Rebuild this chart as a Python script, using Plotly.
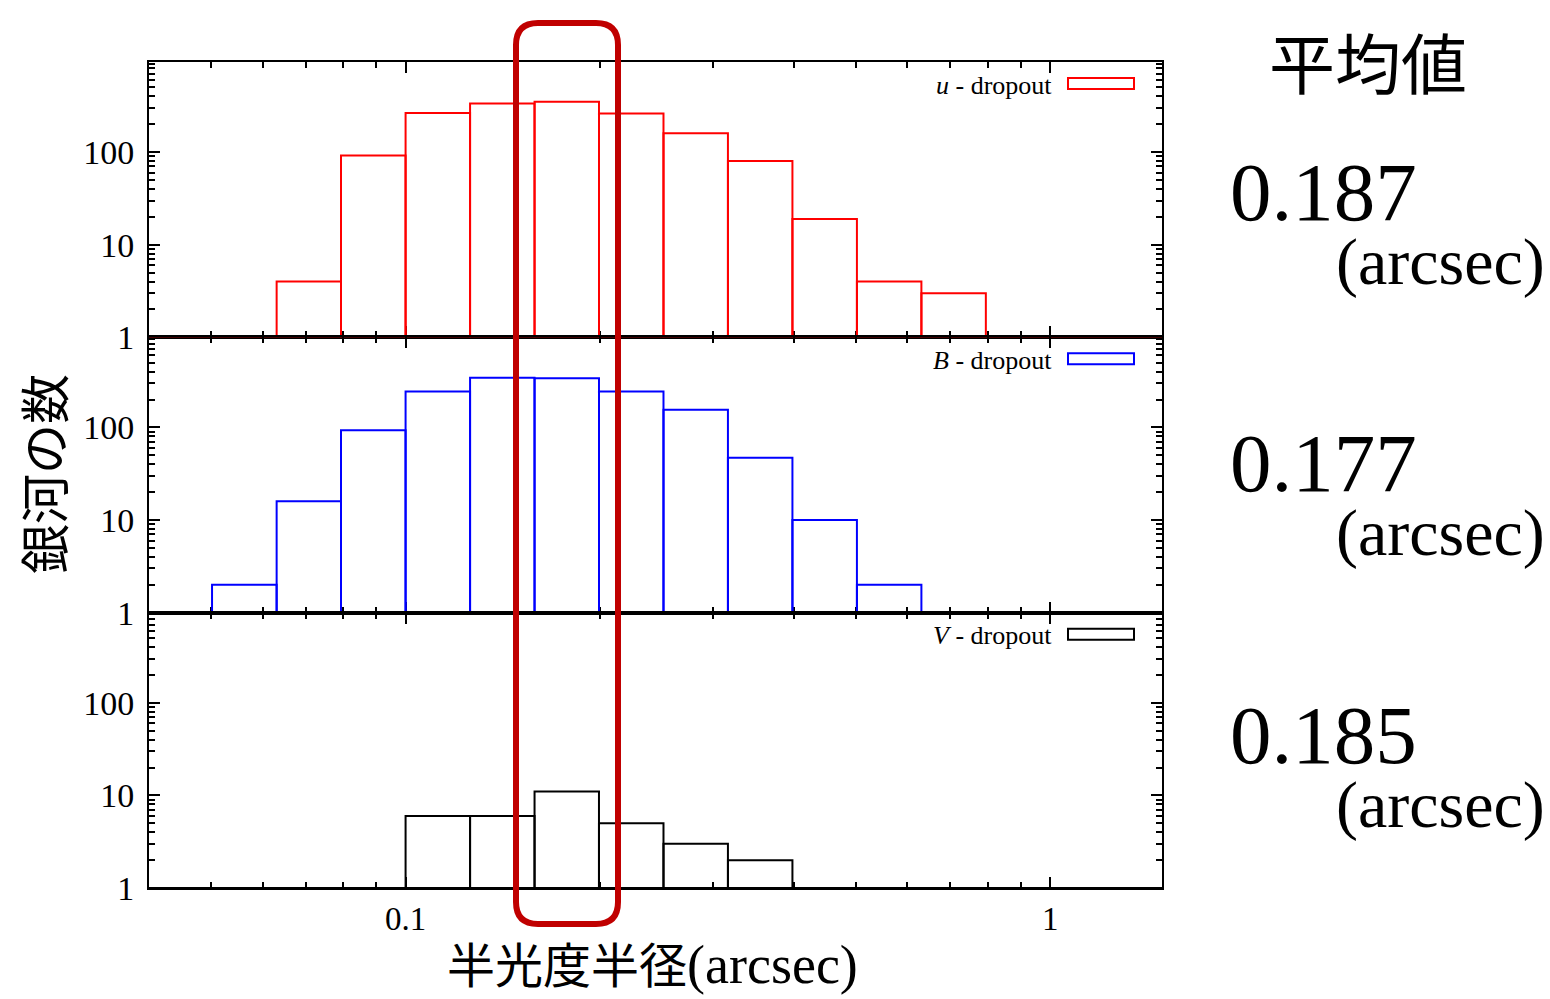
import numpy as np
import plotly.graph_objects as go
from plotly.subplots import make_subplots

# ---------------- data ----------------
bin_edges = [0.0501, 0.0631, 0.0794, 0.1000, 0.1259, 0.1585, 0.1995,
             0.2512, 0.3162, 0.3981, 0.5012, 0.6310, 0.7943]
u_counts = [0, 4, 92, 265, 335, 350, 262, 160, 80, 19, 4, 3]
b_counts = [2, 16, 93, 245, 345, 340, 245, 155, 47, 10, 2, 0]
v_counts = [0, 0, 0, 6, 6, 11, 5, 3, 2, 0, 0, 0]
series_names = ["u", "B", "V"]
series_colors = ["#ff0000", "#0000ff", "#000000"]
mean_values = ["0.187", "0.177", "0.185"]
x_range = [0.04, 1.49]
y_range_max = 940
y_tickvals = [1, 10, 100]
x_tickvals = [0.1, 1]
x_ticktext = ["0.1", "1"]

# ---------------- layout constants ----------------
W, H = 1550, 999
L, R, T, B = 149, 1162, 62, 888
PW, PH = R - L, B - T

SERIF = "Liberation Serif"
CJK = "Noto Sans CJK JP"

fig = make_subplots(rows=3, cols=1, shared_xaxes=True, vertical_spacing=0)


def box_path(edges, counts):
    xs, ys = [x_range[0], x_range[1], None], [1, 1, None]
    for i, c in enumerate(counts):
        if c > 0:
            xs += [edges[i], edges[i], edges[i + 1], edges[i + 1], None]
            ys += [1, c, c, 1, None]
    return xs, ys


all_counts = [u_counts, b_counts, v_counts]
for k, (cnts, col) in enumerate(zip(all_counts, series_colors)):
    xs, ys = box_path(bin_edges, cnts)
    fig.add_trace(go.Scatter(x=xs, y=ys, mode="lines",
                             line=dict(color=col, width=2),
                             showlegend=False, hoverinfo="skip"),
                  row=k + 1, col=1)

minor_x = [0.05, 0.06, 0.07, 0.08, 0.09, 0.2, 0.3, 0.4, 0.5, 0.6, 0.7, 0.8, 0.9]
minor_y = [2, 3, 4, 5, 6, 7, 8, 9, 20, 30, 40, 50, 60, 70, 80, 90,
           200, 300, 400, 500, 600, 700, 800, 900]

for k in range(3):
    fig.update_xaxes(type="log", range=[np.log10(x_range[0]), np.log10(x_range[1])],
                     showline=True, linewidth=2, linecolor="black", mirror="allticks",
                     ticks="inside", ticklen=11, tickwidth=1.5, tickcolor="black",
                     tickvals=x_tickvals, ticktext=x_ticktext,
                     showticklabels=(k == 2), showgrid=False, zeroline=False,
                     minor=dict(ticks="inside", ticklen=6, tickwidth=1.5,
                                tickcolor="black", tickvals=minor_x, showgrid=False),
                     tickfont=dict(family=SERIF, size=33, color="black"),
                     ticklabelstandoff=0,
                     layer="below traces",
                     row=k + 1, col=1)
    fig.update_yaxes(type="log", range=[0, np.log10(y_range_max)],
                     showline=True, linewidth=2, linecolor="black", mirror="allticks",
                     ticks="inside", ticklen=11, tickwidth=1.5, tickcolor="black",
                     tickvals=y_tickvals, ticktext=[str(v) for v in y_tickvals],
                     showgrid=False, zeroline=False,
                     minor=dict(ticks="inside", ticklen=6, tickwidth=1.5,
                                tickcolor="black", tickvals=minor_y, showgrid=False),
                     tickfont=dict(family=SERIF, size=34, color="black"),
                     ticklabelstandoff=6,
                     layer="below traces",
                     row=k + 1, col=1)


def px(x):
    return (x - L) / PW


def py(y):
    return (B - y) / PH


annotations = []
shapes = []

# legends inside each panel
for k in range(3):
    xd = "x domain" if k == 0 else f"x{k+1} domain"
    yd = "y domain" if k == 0 else f"y{k+1} domain"
    name = series_names[k]
    annotations.append(dict(
        xref=xd, yref=yd, x=(1054 - L) / PW, y=1 - 23 / (PH / 3),
        xanchor="right", yanchor="middle", showarrow=False,
        text=f"<i>{name}</i> - dropout",
        font=dict(family=SERIF, size=26, color="black")))
    shapes.append(dict(
        type="rect", xref=xd, yref=yd,
        x0=(1068 - L) / PW, x1=(1134 - L) / PW,
        y0=1 - 27 / (PH / 3), y1=1 - 16 / (PH / 3),
        line=dict(color=series_colors[k], width=2), fillcolor="rgba(0,0,0,0)"))

# right-side mean values
annotations.append(dict(xref="paper", yref="paper", x=px(1368), y=py(60),
                        xanchor="center", yanchor="middle", showarrow=False,
                        text="平均値", font=dict(family=CJK, size=66, color="black")))
val_y = [192, 463, 735]
for k in range(3):
    annotations.append(dict(xref="paper", yref="paper", x=px(1229), y=py(val_y[k]),
                            xanchor="left", yanchor="middle", showarrow=False,
                            text=mean_values[k], borderpad=0,
                            font=dict(family=SERIF, size=83, color="black")))
    annotations.append(dict(xref="paper", yref="paper", x=px(1546), y=py(val_y[k] + 70),
                            xanchor="right", yanchor="middle", showarrow=False,
                            text="(arcsec)", borderpad=0,
                            font=dict(family=SERIF, size=66, color="black")))

# axis titles
annotations.append(dict(xref="paper", yref="paper", x=px(42), y=py(474),
                        xanchor="center", yanchor="middle", showarrow=False,
                        text="銀河の数", textangle=-90,
                        font=dict(family=CJK, size=50, color="black")))
annotations.append(dict(xref="paper", yref="paper", x=px(652), y=py(962),
                        xanchor="center", yanchor="middle", showarrow=False,
                        borderpad=0,
                        text="半光度半径<span style=\"font-family:'Liberation Serif'; font-size:54px\">(arcsec)</span>",
                        font=dict(family=CJK, size=48, color="black")))

# red rounded highlight rectangle (paper coordinates)
x0, x1, y0, y1, r = 516, 618, 23, 924, 22
path = (f"M {px(x0+r)},{py(y0)} L {px(x1-r)},{py(y0)} "
        f"Q {px(x1)},{py(y0)} {px(x1)},{py(y0+r)} "
        f"L {px(x1)},{py(y1-r)} Q {px(x1)},{py(y1)} {px(x1-r)},{py(y1)} "
        f"L {px(x0+r)},{py(y1)} Q {px(x0)},{py(y1)} {px(x0)},{py(y1-r)} "
        f"L {px(x0)},{py(y0+r)} Q {px(x0)},{py(y0)} {px(x0+r)},{py(y0)} Z")
shapes.append(dict(type="path", xref="paper", yref="paper", path=path,
                   line=dict(color="#c00000", width=6), fillcolor="rgba(0,0,0,0)",
                   layer="above"))

fig.update_layout(
    width=W, height=H,
    margin=dict(l=L, r=W - R, t=T, b=H - B),
    paper_bgcolor="white", plot_bgcolor="white",
    showlegend=False,
    annotations=annotations, shapes=shapes,
)

fig.write_html("out.html")
